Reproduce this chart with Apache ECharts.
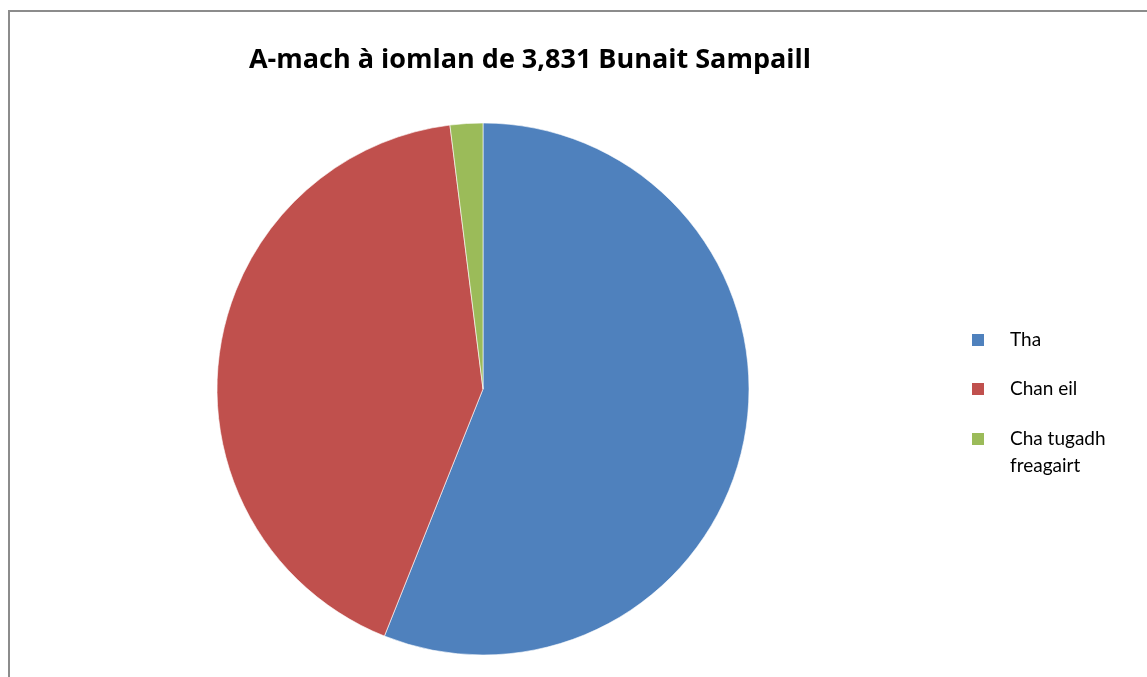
<!DOCTYPE html>
<html>
<head>
<meta charset="utf-8">
<script src="https://cdn.jsdelivr.net/npm/echarts@6/dist/echarts.min.js"></script>
<style>
html,body{margin:0;padding:0;background:#fff;}
#c{width:1147px;height:677px;}
</style>
</head>
<body>
<div id="c"></div>
<script>
var titleText = 'A-mach à iomlan de 3,831 Bunait Sampaill';
var categories = ['Tha', 'Chan eil', 'Cha tugadh freagairt'];
var legendLabels = ['Tha', 'Chan eil', ' \nCha tugadh\nfreagairt'];
var values = [2147, 1608, 76];
var colors = ['#4f81bd', '#c0504d', '#9bbb59'];

var FONT = 'Lato';
var chart = echarts.init(document.getElementById('c'));

var legendTops = [333, 382, 432];
var legends = categories.map(function (name, i) {
  var multi = legendLabels[i].indexOf('\n') >= 0;
  return {
    orient: 'vertical',
    left: 970,
    top: multi ? legendTops[i] - 33.5 : legendTops[i] - 3,
    padding: 0,
    itemWidth: 14,
    itemHeight: 14,
    icon: 'rect',
    selectedMode: false,
    data: [name],
    formatter: function () { return legendLabels[i]; },
    textStyle: {
      fontFamily: FONT,
      fontSize: 19,
      color: '#000',
      lineHeight: multi ? 27 : 20,
      padding: [0, 0, 0, 20]
    }
  };
});

chart.setOption({
  animation: false,
  color: colors,
  title: {
    text: titleText,
    left: 530,
    textAlign: 'center',
    top: 47,
    padding: 0,
    textStyle: { fontFamily: 'Open Sans', fontSize: 27, fontWeight: 'bold', color: '#000' }
  },
  graphic: [{
    type: 'rect',
    shape: { x: 9, y: 11, width: 1300, height: 800 },
    style: { fill: 'none', stroke: '#8c8c8c', lineWidth: 2 },
    silent: true
  }],
  legend: legends,
  series: [{
    type: 'pie',
    center: [483, 389],
    radius: 266,
    startAngle: 90,
    clockwise: true,
    label: { show: false },
    labelLine: { show: false },
    itemStyle: { borderColor: '#ffffff', borderWidth: 0.6 },
    emphasis: { disabled: true },
    data: categories.map(function (n, i) { return { name: n, value: values[i] }; })
  }]
});
</script>
</body>
</html>
